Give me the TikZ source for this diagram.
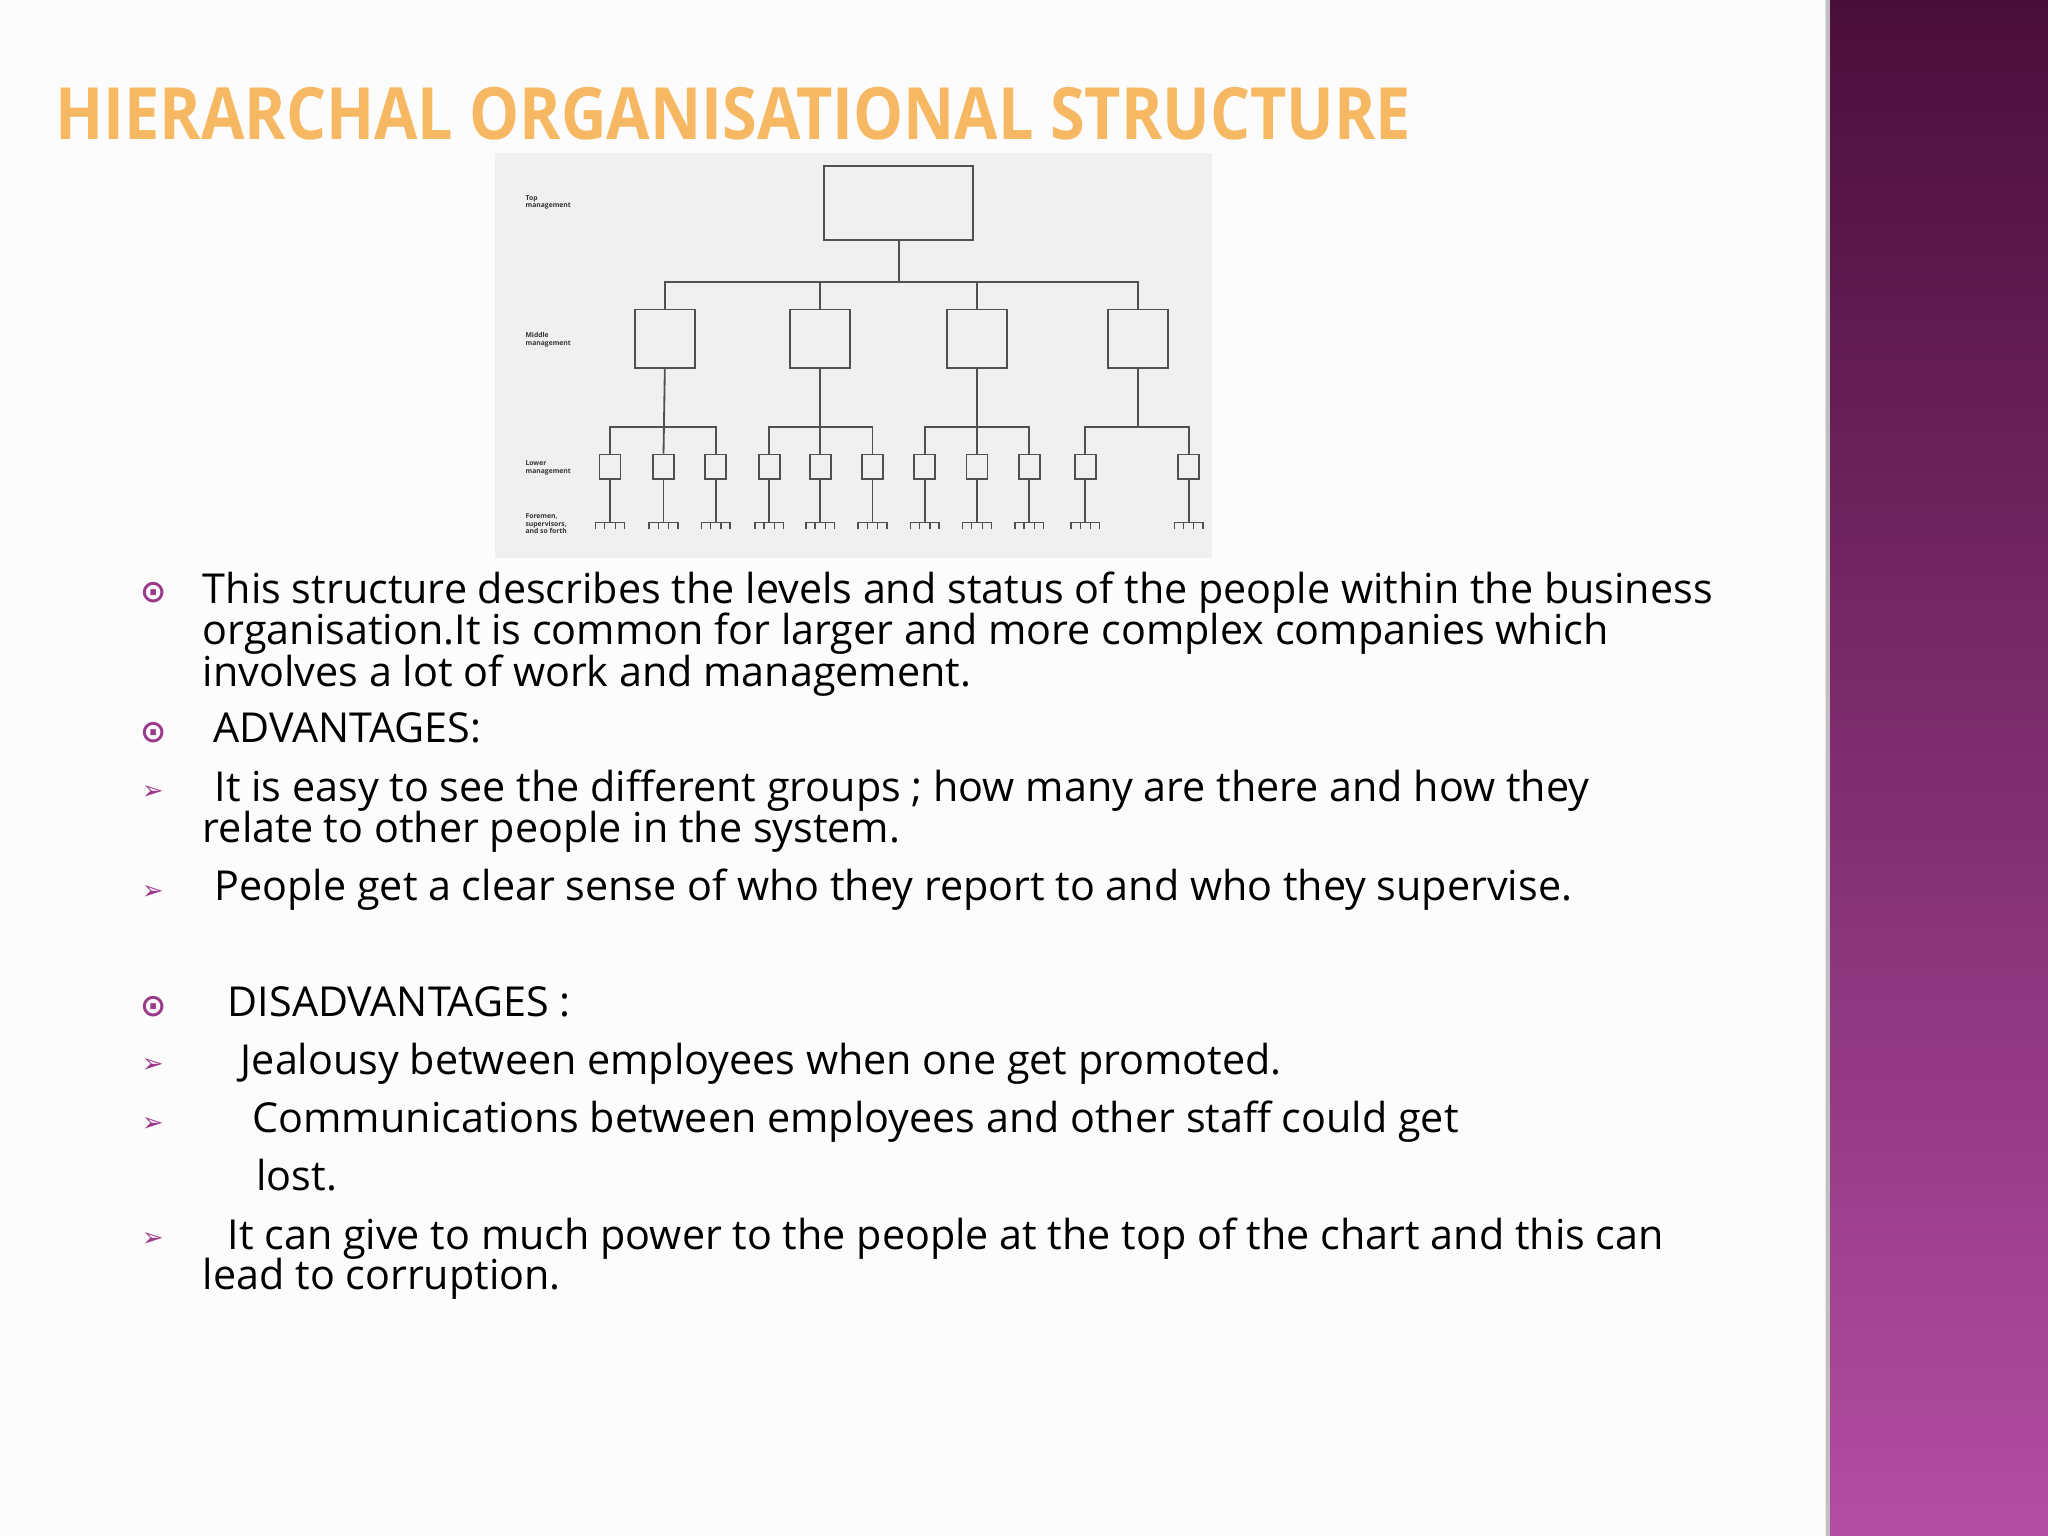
\documentclass[tikz,border=0pt]{standalone}
\usepackage{fontspec}
\setmainfont{Open Sans}
\newfontfamily\symf{DejaVu Sans}
\newfontfamily\titlef{Open Sans}
\usetikzlibrary{positioning}
\definecolor{bandtop}{HTML}{4A0E3A}
\definecolor{bandbot}{HTML}{B34DA3}
\definecolor{bul}{HTML}{9A3A8A}
\definecolor{ttl}{HTML}{F6B862}
\definecolor{ln}{HTML}{505050}
\tikzset{
  txt/.style={anchor=mid west,inner sep=0pt,font=\fontsize{15.8}{18}\selectfont,text=black},
  bcirc/.style={inner sep=0pt,text=bul,font=\symf\bfseries\fontsize{12}{14}\selectfont},
  barr/.style={inner sep=0pt,text=bul,font=\symf\fontsize{10}{12}\selectfont},
  bx/.style={draw=ln,line width=0.7pt,inner sep=0pt,fill=none},
  wire/.style={draw=ln,line width=0.7pt},
  lab/.style={anchor=west,inner sep=0pt,align=left,font=\fontsize{2.6}{3}\selectfont\bfseries,text=black!80}
}
\begin{document}
\begin{tikzpicture}[x=0.5pt,y=-0.5pt]
\useasboundingbox (0,0) rectangle (1568,1176);
\fill[white!98!gray] (0,0) rectangle (1398,1176);
\shade[top color=bandtop,bottom color=bandbot] (1398,0) rectangle (1568,1176);
\fill[black!25] (1398,0) rectangle (1401,1176);
% title
\node[anchor=west,inner sep=0pt,text=ttl] (title) at (42,87)
  {\resizebox{519pt}{20pt}{\titlef\bfseries HIERARCHAL ORGANISATIONAL STRUCTURE}};
% chart
\fill[black!6] (379,117) rectangle (928,427);
\node[bx,minimum width=57pt,minimum height=28.5pt] (top) at (688,155.5) {};
\coordinate (bus) at (688,216);
\foreach \n/\x in {1/509,2/628,3/748,4/871}{
  \node[bx,minimum width=23pt,minimum height=22.5pt] (m\n) at (\x,259.5) {};
}
\draw[wire] (top.south) -- (bus);
\draw[wire] (m1.north) |- (m4.north |- bus) -- (m4.north);
\draw[wire] (m2.north) -- (m2.north |- bus);
\draw[wire] (m3.north) -- (m3.north |- bus);
\foreach \n/\x in {1/467,2/508,3/548,4/589,5/628,6/668,7/708,8/748,9/788,10/831,11/910}{
  \node[bx,minimum width=8pt,minimum height=9.5pt] (l\n) at (\x,357.5) {};
  \coordinate (f\n) at (\x,400);
  \draw[wire] (l\n.south) -- (f\n);
  \draw[wire,line width=0.5pt] ([xshift=-5.5pt]f\n) -- ([xshift=5.5pt]f\n);
  \foreach \d in {-5.5,-2,2,5.5}{\draw[wire,line width=0.5pt] ([xshift=\d pt]f\n) -- ++(0,5);}
}
\foreach \m/\a/\b/\c in {1/1/2/3,2/4/5/6,3/7/8/9}{
  \draw[wire] (m\m.south) -- (l\b.north);
  \draw[wire] (l\a.north) |- (l\c.north |- 0,327) -- (l\c.north);
}
\draw[wire] (m4.south) -- (871,327);
\draw[wire] (l10.north) |- (l11.north |- 0,327) -- (l11.north);
\node[lab] (lt) at (402,155) {Top\\management};
\node[lab] (lm) at (402,260) {Middle\\management};
\node[lab] (ll) at (402,358) {Lower\\management};
\node[lab] (lf) at (402,401) {Foremen,\\supervisors,\\and so forth};
% bullets
\foreach \y in {454,561,771}{\node[bcirc] at (118,\y) {⊙};}
\foreach \y in {607,683,816,861,949}{\node[barr] at (117,\y) {➢};}
% text
\node[txt] (t1) at (155,457) {This structure describes the levels and status of the people within the business};
\node[txt] (t2) at (155,488) {organisation.It is common for larger and more complex companies which};
\node[txt] (t3) at (155,520) {involves a lot of work and management.};
\node[txt] (t4) at (163,563) {ADVANTAGES:};
\node[txt] (t5) at (164,608) {It is easy to see the different groups ; how many are there and how they};
\node[txt] (t6) at (155,640) {relate to other people in the system.};
\node[txt] (t7) at (164,684) {People get a clear sense of who they report to and who they supervise.};
\node[txt] (t8) at (174,773) {DISADVANTAGES :};
\node[txt] (t9) at (184,817) {Jealousy between employees when one get promoted.};
\node[txt] (t10) at (193,862) {Communications between employees and other staff could get};
\node[txt] (t11) at (196,906) {lost.};
\node[txt] (t12) at (174,951) {It can give to much power to the people at the top of the chart and this can};
\node[txt] (t13) at (155,982) {lead to corruption.};
\end{tikzpicture}
\end{document}
